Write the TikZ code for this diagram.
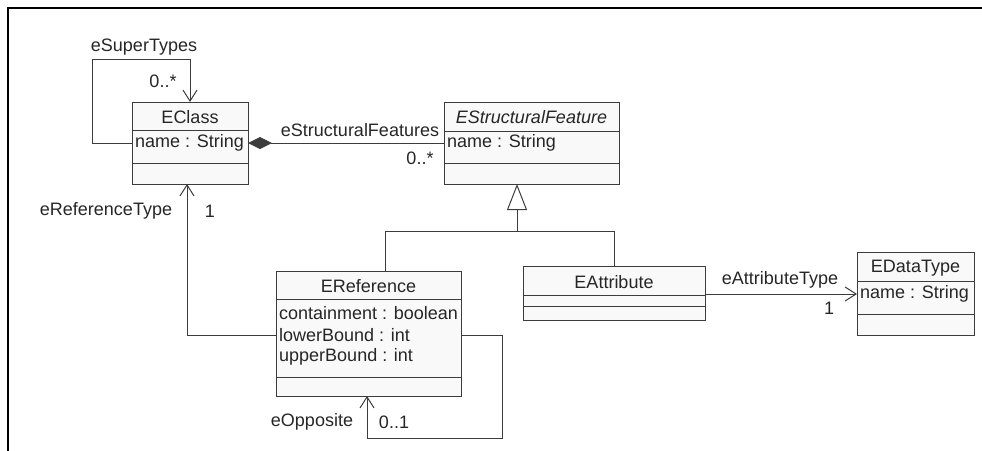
\documentclass[tikz,border=0pt]{standalone}
\usepackage{fontspec}
\setmainfont{Liberation Sans}
\usetikzlibrary{arrows.meta,calc,positioning}
\definecolor{umlline}{HTML}{3C3C3C}
\definecolor{umlfill}{HTML}{F9F9F9}
\tikzset{
  umlbox/.style={draw=umlline, fill=umlfill, line width=1pt, inner sep=0pt, outer sep=0pt, anchor=north west},
  umltext/.style={font=\fontsize{18}{21}\selectfont, inner sep=0pt, text=black!85},
  attr/.style={umltext, anchor=west},
  link/.style={draw=umlline, line width=1pt},
  assoc/.style={link, -{Straight Barb[length=11pt,width=14pt]}},
}

\begin{document}
\begin{tikzpicture}[x=1pt,y=-1pt]
\useasboundingbox (0,0) rectangle (982,450);
% frame
\draw[line width=2pt] (8,451) -- (8,8) -- (983,8);

% class boxes
\node[umlbox, minimum width=116pt, minimum height=82pt] (eclass) at (132,102) {};
\node[umlbox, minimum width=175pt, minimum height=82pt] (esf) at (444,102) {};
\node[umlbox, minimum width=185pt, minimum height=125pt] (eref) at (276,271) {};
\node[umlbox, minimum width=182pt, minimum height=54pt] (eattr) at (523,266) {};
\node[umlbox, minimum width=117pt, minimum height=83pt] (edt) at (857,252) {};

% compartments
\foreach \cls/\w/\a/\b in {eclass/116/28/61, esf/175/29/61, eref/185/28/106, eattr/182/29/40, edt/117/29/62}{
  \draw[link] ($(\cls.north west)+(0,\a)$) -- ++(\w,0);
  \draw[link] ($(\cls.north west)+(0,\b)$) -- ++(\w,0);
}

% class names
\node[umltext] (eclassname) at ($(eclass.north)+(0,15)$) {EClass};
\node[umltext] (esfname) at ($(esf.north)+(0,15)$) {\itshape EStructuralFeature};
\node[umltext] (erefname) at ($(eref.north)+(0,15)$) {EReference};
\node[umltext] (eattrname) at ($(eattr.north)+(0,16)$) {EAttribute};
\node[umltext] (edtname) at ($(edt.north)+(0,16)$) {EDataType};

% attributes
\node[attr] (eclassattr) at ($(eclass.north west)+(3,41)$) {name : String};
\node[attr] (esfattr) at ($(esf.north west)+(3,41)$) {name : String};
\node[attr] (erefattrA) at ($(eref.north west)+(3,42)$) {containment : boolean};
\node[attr] (erefattrB) at ($(eref.north west)+(3,64)$) {lowerBound : int};
\node[attr] (erefattrC) at ($(eref.north west)+(3,86)$) {upperBound : int};
\node[attr] (edtattr) at ($(edt.north west)+(3,42)$) {name : String};

% eSuperTypes
\coordinate (stA) at (92,143);
\coordinate (stB) at (190,59);
\draw[assoc] (eclassattr -| eclass.west) -- (stA) |- (stB) -- (stB |- eclass.north);
\node[umltext] (stlabel) at (144,47) {eSuperTypes};
\node[umltext] (stmult) at (163,81) {0..*};

% eStructuralFeatures
\draw[link, {Diamond[length=24pt,width=12pt]}-] (eclassattr -| eclass.east) -- (esfattr -| esf.west);
\node[umltext] (sflabel) at (360,130) {eStructuralFeatures};
\node[umltext] (sfmult) at (420,158) {0..*};

% generalization
\coordinate (gjoin) at (517,231);
\coordinate (gref) at (385,231);
\draw[link, -{Triangle[open,length=26pt,width=20pt]}] (gjoin) -- (gjoin |- esf.south);
\draw[link] (gref |- eref.north) -- (gref) -- (gjoin -| eattr.north) -- (eattr.north);

% eReferenceType
\coordinate (rtbend) at (187,335);
\draw[assoc] (erefattrB -| eref.west) -- (rtbend) -- (rtbend |- eclass.south);
\node[umltext] (rtlabel) at (106,211) {eReferenceType};
\node[umltext] (rtmult) at (210,211) {1};

% eOpposite
\coordinate (opA) at (502,438);
\coordinate (opB) at (367,438);
\draw[assoc] (erefattrB -| eref.east) -| (opA) -- (opB) -- (opB |- eref.south);
\node[umltext] (oplabel) at (312,422) {eOpposite};
\node[umltext] (opmult) at (394,422) {0..1};

% eAttributeType
\draw[assoc] (edtattr -| eattr.east) -- (edtattr -| edt.west);
\node[umltext] (atlabel) at (780,280) {eAttributeType};
\node[umltext] (atmult) at (829,308) {1};
\end{tikzpicture}
\end{document}
